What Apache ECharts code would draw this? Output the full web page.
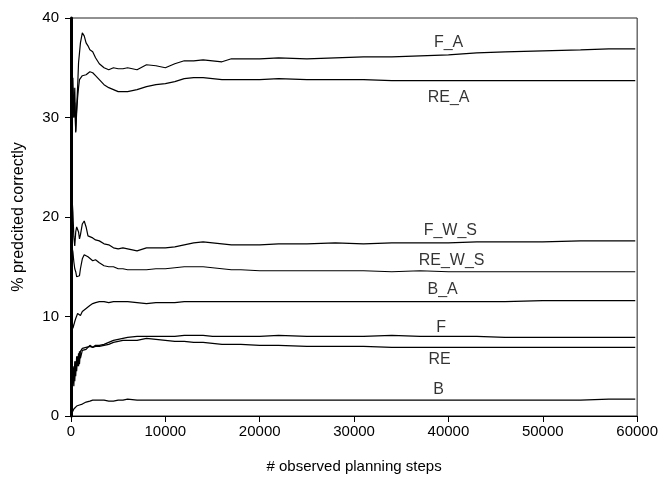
<!DOCTYPE html>
<html>
<head>
<meta charset="utf-8">
<script src="https://cdn.jsdelivr.net/npm/echarts@6/dist/echarts.min.js"></script>
<style>html,body{margin:0;padding:0;background:#fff;}#c{width:661px;height:479px;}</style>
</head>
<body>
<div id="c"></div>
<script>
// observed planning steps (x positions of samples)
const steps = [0,100,200,300,400,500,600,700,800,900,1000,1200,1400,1600,1800,2000,2300,2600,3000,3500,4000,4500,5000,5500,6000,7000,8000,9000,10000,11000,12000,13000,14000,15000,16000,17000,18000,20000,22000,25000,28000,31000,34000,37000,40000,43000,46000,50000,54000,57000,59800];

const F_A    = [40,31,34,30,33,28.5,31,33,35.5,36.5,37.5,38.5,38.2,37.5,37.2,36.8,36.6,36.0,35.4,35.0,34.8,35.0,34.9,34.9,35.0,34.8,35.3,35.2,35.0,35.4,35.7,35.7,35.8,35.7,35.6,35.9,35.9,35.9,36.0,35.9,36.0,36.1,36.1,36.2,36.3,36.5,36.6,36.7,36.8,36.9,36.9];
const RE_A   = [35,29,33,30,31.5,28.6,30.5,32,33,33.8,34,34.2,34.0,34.3,34.4,34.6,34.5,34.2,33.8,33.3,33.0,32.8,32.6,32.6,32.6,32.8,33.1,33.3,33.4,33.6,33.9,34.0,34.0,33.9,33.8,33.8,33.8,33.8,33.9,33.8,33.8,33.8,33.7,33.7,33.7,33.7,33.7,33.7,33.7,33.7,33.7];
const F_W_S  = [40,22,20.5,18,17.1,18.5,19,19.1,18.5,17.8,18.2,19.3,19.6,19.0,18.1,17.9,17.9,17.7,17.6,17.3,17.2,16.9,16.8,16.9,16.8,16.6,16.9,16.9,16.9,17.0,17.2,17.4,17.5,17.4,17.3,17.2,17.2,17.2,17.3,17.3,17.4,17.3,17.4,17.4,17.4,17.5,17.5,17.5,17.6,17.6,17.6];
const RE_W_S = [0,17,16.5,15.5,14.8,14.5,14.0,13.8,13.9,14.1,14.8,15.8,16.2,16.1,16.0,15.8,15.6,15.7,15.4,15.1,15.0,15.0,14.8,14.8,14.7,14.7,14.7,14.8,14.8,14.9,15.0,15.0,15.0,14.9,14.8,14.7,14.7,14.6,14.6,14.6,14.6,14.6,14.5,14.6,14.5,14.5,14.5,14.5,14.5,14.5,14.5];
const B_A    = [0,9.8,8.8,9.0,9.5,9.8,10.0,10.3,10.2,10.1,10.1,10.5,10.7,10.8,11.0,11.1,11.3,11.4,11.5,11.5,11.4,11.5,11.5,11.5,11.5,11.4,11.3,11.4,11.4,11.4,11.5,11.5,11.5,11.5,11.5,11.5,11.5,11.5,11.5,11.5,11.5,11.5,11.5,11.5,11.5,11.5,11.5,11.6,11.6,11.6,11.6];
const F      = [0,2.5,4.5,3.0,5.5,4.0,6.0,5.0,6.3,5.2,6.5,6.8,6.6,6.9,6.8,7.0,6.9,7.1,7.1,7.2,7.4,7.6,7.7,7.8,7.9,8.0,8.0,8.0,8.0,8.0,8.1,8.1,8.1,8.0,8.0,8.0,8.0,8.0,8.1,8.0,8.0,8.0,8.1,8.0,8.0,8.0,7.9,7.9,7.9,7.9,7.9];
const RE     = [10,3.0,4.0,5.0,3.5,5.5,4.5,6.0,5.0,6.5,5.8,6.6,6.8,6.7,6.9,7.1,6.9,7.0,7.0,7.1,7.2,7.4,7.5,7.6,7.6,7.6,7.8,7.7,7.6,7.5,7.5,7.4,7.4,7.3,7.2,7.2,7.2,7.1,7.1,7.0,7.0,7.0,6.9,6.9,6.9,6.9,6.9,6.9,6.9,6.9,6.9];
const B      = [0,0.3,0.5,0.7,0.8,0.9,1.0,1.0,1.1,1.1,1.2,1.2,1.3,1.4,1.4,1.5,1.6,1.6,1.6,1.6,1.5,1.5,1.6,1.6,1.7,1.6,1.6,1.6,1.6,1.6,1.6,1.6,1.6,1.6,1.6,1.6,1.6,1.6,1.6,1.6,1.6,1.6,1.6,1.6,1.6,1.6,1.6,1.6,1.6,1.7,1.7];

const seriesNames = ['F_A','RE_A','F_W_S','RE_W_S','B_A','F','RE','B'];
const seriesValues = [F_A, RE_A, F_W_S, RE_W_S, B_A, F, RE, B];
// label anchor positions in data units
const labelX = [40020,40020,40200,40340,39390,39230,39070,38970];
const labelY = [37.55,32.0,18.63,15.63,12.75,8.85,5.65,2.7];

const xTicks = [0,10000,20000,30000,40000,50000,60000];
const yTicks = [0,10,20,30,40];

const FONT = '"Liberation Sans", Arial, sans-serif';

const series = seriesNames.map((n, i) => ({
  name: n,
  type: 'line',
  data: steps.map((s, j) => [s, seriesValues[i][j]]),
  showSymbol: false,
  symbol: 'none',
  lineStyle: { color: '#000', width: 1.2 },
  clip: true,
  animation: false
}));

series.push({
  type: 'scatter',
  symbolSize: 0,
  silent: true,
  animation: false,
  data: seriesNames.map((n, i) => ({ value: [labelX[i], labelY[i]], name: n })),
  label: {
    show: true, position: 'inside', formatter: p => p.name,
    color: '#000', fontSize: 16, fontFamily: FONT
  }
});

const chart = echarts.init(document.getElementById('c'), null, { renderer: 'canvas' });
chart.setOption({
  backgroundColor: '#fff',
  animation: false,
  grid: { left: 71, right: 22, top: 18, bottom: 61, show: true, borderColor: '#222', borderWidth: 1, backgroundColor: 'transparent' },
  xAxis: {
    type: 'value', min: xTicks[0], max: xTicks[xTicks.length - 1], interval: 10000,
    name: '# observed planning steps', nameLocation: 'middle', nameGap: 43,
    nameTextStyle: { color: '#000', fontSize: 15, fontFamily: FONT },
    axisLine: { onZero: false, lineStyle: { color: '#000', width: 1 } },
    axisTick: { show: true, inside: false, length: 6, lineStyle: { color: '#000' } },
    axisLabel: { color: '#000', fontSize: 15, fontFamily: FONT, margin: 8, formatter: v => String(v) },
    splitLine: { show: false }
  },
  yAxis: {
    type: 'value', min: yTicks[0], max: yTicks[yTicks.length - 1], interval: 10,
    name: '% predcited correctly', nameLocation: 'middle', nameGap: 44, nameRotate: 90,
    nameTextStyle: { color: '#000', fontSize: 16, fontFamily: FONT },
    axisLine: { onZero: false, lineStyle: { color: '#000', width: 3 } },
    axisTick: { show: true, inside: false, length: 6, lineStyle: { color: '#000' } },
    axisLabel: { color: '#000', fontSize: 15, fontFamily: FONT, margin: 12 },
    splitLine: { show: false }
  },
  series: series
});
</script>
</body>
</html>
